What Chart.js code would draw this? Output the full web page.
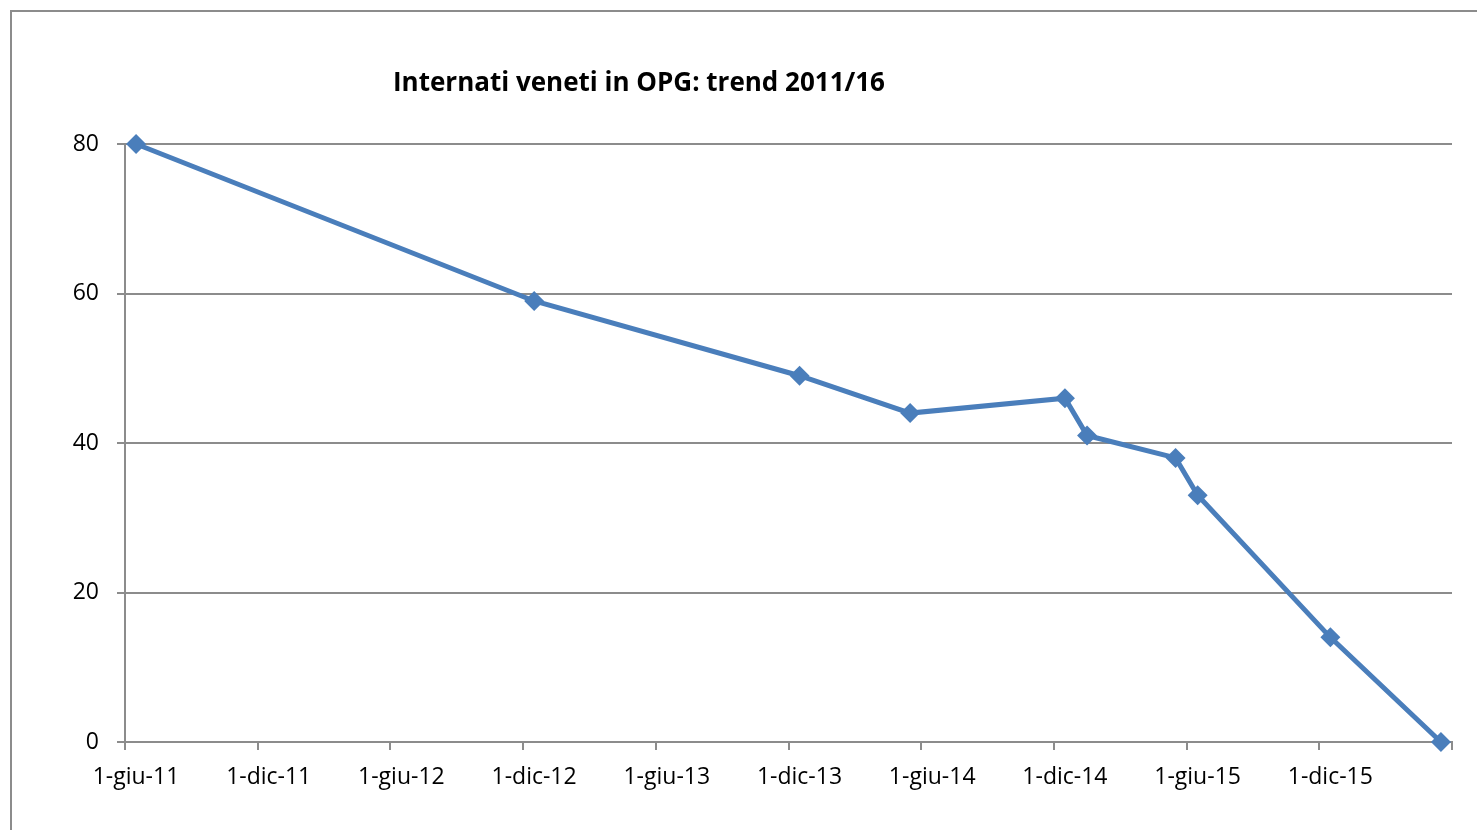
<!DOCTYPE html>
<html>
<head>
<meta charset="utf-8">
<script src="https://cdn.jsdelivr.net/npm/chart.js@4.4.0/dist/chart.umd.min.js"></script>
<style>
  html, body { margin: 0; padding: 0; background: #ffffff; overflow: hidden; }
  #wrap { position: relative; width: 1477px; height: 830px; }
  #frame {
    position: absolute; left: 10px; top: 10px; width: 1500px; height: 900px;
    border-left: 2px solid #8c8c8c; border-top: 2px solid #8c8c8c;
  }
  #title {
    position: absolute; left: 0; width: 1278px; top: 63px; text-align: center;
    font-family: "Open Sans", sans-serif; font-weight: bold; font-size: 26px; color: #000;
  }
  canvas { position: absolute; left: 0; top: 0; }
</style>
</head>
<body>
<div id="wrap">
  <div id="frame"></div>
  <canvas id="canvas" width="1477" height="830"></canvas>
  <div id="title">Internati veneti in OPG: trend 2011/16</div>
</div>
<script>
// Months of the survey (one point per month) and number of inmates
var dates = ["2011-06", "2012-12", "2013-12", "2014-05", "2014-12", "2015-01", "2015-05", "2015-06", "2015-12", "2016-05"];
var internati = [80, 59, 49, 44, 46, 41, 38, 33, 14, 0];

// Tick labels, one every 6 months (the last tick has no label)
var tickLabels = ["1-giu-11", "1-dic-11", "1-giu-12", "1-dic-12", "1-giu-13", "1-dic-13", "1-giu-14", "1-dic-14", "1-giu-15", "1-dic-15", ""];
var yTicks = [0, 20, 40, 60, 80];

// Month index counted from June 2011, centred in its month slot
function monthIndex(s) {
  var parts = s.split("-");
  return (parseInt(parts[0], 10) - 2011) * 12 + (parseInt(parts[1], 10) - 6) + 0.5;
}

var points = dates.map(function (d, i) {
  return { x: monthIndex(d), y: internati[i] };
});

var gray = "#8c8c8c";
var blue = "#4a7ebb";

var ctx = document.getElementById("canvas").getContext("2d");
var chart = new Chart(ctx, {
  type: "line",
  data: {
    datasets: [{
      label: "Internati",
      data: points,
      borderColor: blue,
      backgroundColor: blue,
      borderWidth: 5,
      tension: 0,
      pointStyle: "rectRot",
      pointRadius: 10,
      pointHoverRadius: 10,
      pointBorderWidth: 0,
      clip: false
    }]
  },
  options: {
    responsive: false,
    animation: false,
    layout: { padding: { left: 0, top: 144, right: 25, bottom: 0 } },
    plugins: {
      legend: { display: false },
      title: { display: false },
      tooltip: { enabled: false }
    },
    scales: {
      x: {
        type: "linear",
        min: 0,
        max: 60,
        afterFit: function (scale) { scale.height = 88; },
        afterBuildTicks: function (scale) {
          scale.ticks = tickLabels.map(function (_, i) { return { value: i * 6 }; });
        },
        ticks: {
          autoSkip: false,
          maxRotation: 0,
          padding: 14,
          labelOffset: 11,
          color: "#000000",
          font: { family: "Open Sans", size: 23 },
          callback: function (value) { return tickLabels[Math.round(value / 6)]; }
        },
        grid: {
          drawOnChartArea: false,
          drawTicks: true,
          tickLength: 8,
          color: gray,
          lineWidth: 2
        },
        border: { color: gray, width: 2 }
      },
      y: {
        min: 0,
        max: 80,
        afterFit: function (scale) { scale.width = 125; },
        afterBuildTicks: function (scale) {
          scale.ticks = yTicks.map(function (v) { return { value: v }; });
        },
        ticks: {
          padding: 18,
          color: "#000000",
          font: { family: "Open Sans", size: 23 }
        },
        grid: {
          color: gray,
          lineWidth: 2,
          tickLength: 8
        },
        border: { color: gray, width: 2 }
      }
    }
  }
});
</script>
</body>
</html>
